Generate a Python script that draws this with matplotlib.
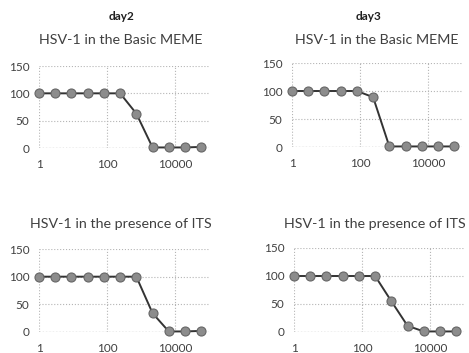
import matplotlib
matplotlib.use("Agg")
import matplotlib.pyplot as plt

plt.rcParams['font.family'] = ['Lato', 'DejaVu Sans']

# 3-fold dilution series
dilution = [1, 3, 9, 27, 81, 243, 729, 2187, 6561, 19683, 59049]

day2_basic = [100, 100, 100, 100, 100, 100, 63, 1, 1, 1, 2]
day3_basic = [100, 100, 100, 100, 100, 89, 1, 1, 1, 1, 1]
day2_its = [100, 100, 100, 100, 100, 100, 100, 34, 1, 1, 2]
day3_its = [100, 100, 100, 100, 100, 100, 55, 11, 1, 1, 1]

titles = ["HSV-1 in the Basic MEME", "HSV-1 in the Basic MEME",
          "HSV-1 in the presence of ITS", "HSV-1 in the presence of ITS"]
day_labels = ["day2", "day3"]

fig = plt.figure(figsize=(4.69, 3.53), dpi=100)

W, H = 469.0, 353.0
# left, bottom (0 line), right, top (150 line) in pixels from top-left
boxes = [(39, 148, 209, 66), (292, 147, 462, 63),
         (39, 332, 209, 249), (294, 332, 464, 248)]
title_x = [121, 377, 121, 375]
series = [day2_basic, day3_basic, day2_its, day3_its]

for i, (box, ys) in enumerate(zip(boxes, series)):
    l, b, r, t = box
    ax = fig.add_axes([l / W, 1 - b / H, (r - l) / W, (b - t) / H])
    ax.plot(dilution, ys, '-', color='#333333', lw=1.4, marker='o', ms=6.5,
            mfc='#8c8c8c', mec='#666666', mew=0.8, zorder=3, clip_on=False)
    ax.set_xscale('log')
    ax.set_xlim(1, 1e5)
    ax.set_ylim(0, 150)
    ax.set_xticks([1, 100, 10000])
    ax.set_xticklabels(['1', '100', '10000'])
    ax.minorticks_off()
    ax.set_yticks([0, 50, 100, 150])
    for s in ax.spines.values():
        s.set_visible(False)
    ax.grid(True, linestyle=':', color='#b5b5b5', lw=0.8)
    ax.axhline(0, linestyle=':', color='#8a8a8a', lw=0.9, zorder=1)
    ax.tick_params(length=0, labelsize=8.5, colors='#404040')
    ax.tick_params(axis='x', pad=8)
    ax.tick_params(axis='y', pad=7)
    # title placed in figure pixels
    ty = 40 if i < 2 else 224
    fig.text(title_x[i] / W, 1 - ty / H, titles[i], ha='center', va='center',
             fontsize=10.3, color='#404040')

fig.text(121 / W, 1 - 17 / H, day_labels[0], ha='center', va='center',
         fontsize=8.5, fontweight='bold', color='#202020')
fig.text(368 / W, 1 - 17 / H, day_labels[1], ha='center', va='center',
         fontsize=8.5, fontweight='bold', color='#202020')

fig.savefig('out.png', dpi=100, facecolor='white')
